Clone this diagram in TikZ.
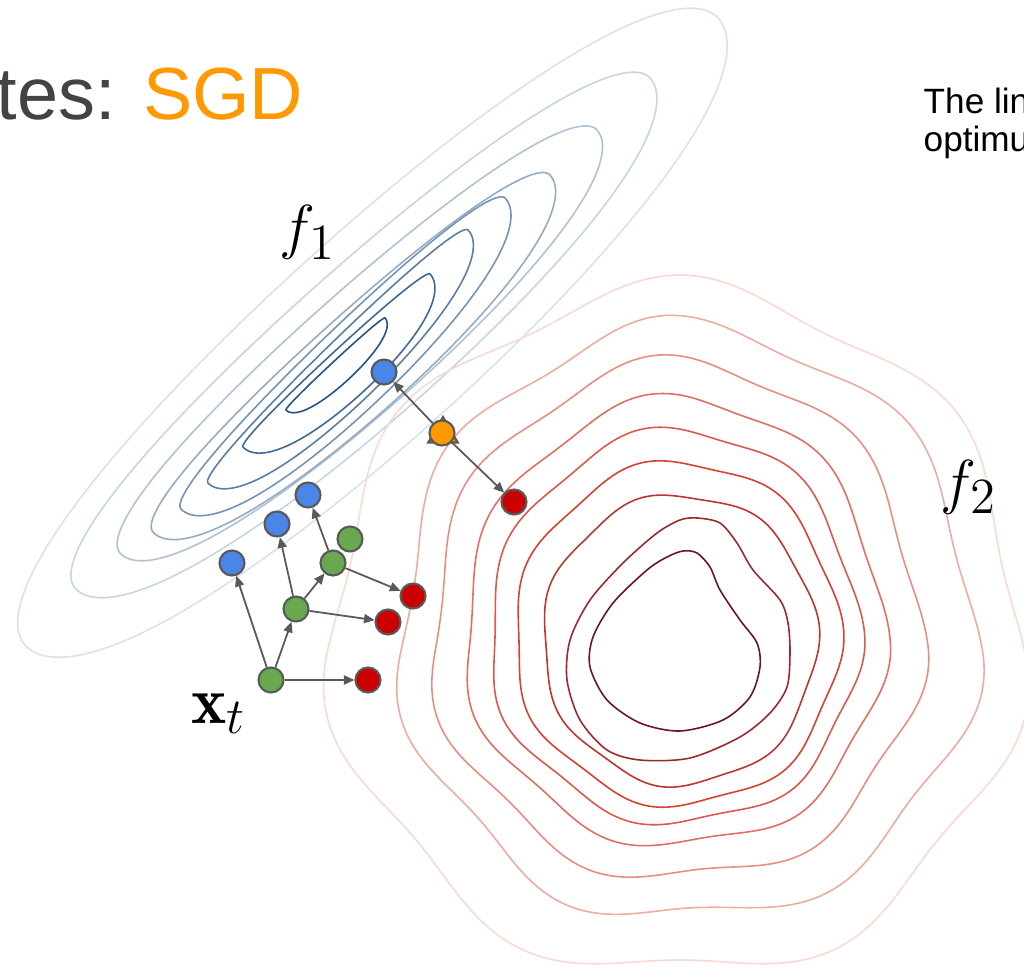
\documentclass[tikz,border=0pt]{standalone}
\usepackage{fontspec}
\usepackage{amsmath}
\usepackage{tikz}
\usetikzlibrary{arrows.meta, shapes.geometric}

\newfontfamily\slidefont{Liberation Sans}

\definecolor{nodeedge}{HTML}{595959}
\definecolor{ptblue}{HTML}{4A86E8}
\definecolor{ptgreen}{HTML}{6AA84F}
\definecolor{ptred}{HTML}{CC0000}
\definecolor{ptorange}{HTML}{FF9900}
\definecolor{titlegray}{HTML}{434343}
\definecolor{bluedeep}{RGB}{38,82,132}
\definecolor{bluepale}{RGB}{226,236,244}
\definecolor{reddeep}{RGB}{105,20,40}
\definecolor{redmid}{RGB}{215,65,50}
\definecolor{redpale}{RGB}{248,218,208}

% leaf shaped level line of f1: tips L=(#1,#2), R=(#3,#4), widths #5 (upper side) and #6 (lower side)
\newcommand\leafcurve[7]{%
  \pgfmathsetmacro\lcx{(#1+#3)/2}
  \pgfmathsetmacro\lcy{(#2+#4)/2}
  \pgfmathsetmacro\lha{veclen(#3-#1,#4-#2)/2}
  \pgfmathsetmacro\lux{(#3-#1)/(2*\lha)}
  \pgfmathsetmacro\luy{(#4-#2)/(2*\lha)}
  \draw[isoline,#7] plot[domain=0:360, samples=241, variable=\t]
    ({\lcx+\lha*cos(\t)*(1+0.1*sin(\t)^2)*\lux-((sin(\t)>0)?#6:#5)*sin(\t)*\luy},
     {\lcy+\lha*cos(\t)*(1+0.1*sin(\t)^2)*\luy+((sin(\t)>0)?#6:#5)*sin(\t)*\lux}) -- cycle;}

% wavy level line of f2: centre, radii left/right/top/bottom, wave, phase
\newcommand\blobcurve[9]{%
  \draw[isoline,#9] plot[domain=0:360, samples=241, variable=\t]
    ({#1+((cos(\t)>0)?#4:#3)*cos(\t)+#7*sin(7*\t+#8)*cos(\t)},
     {#2+((sin(\t)>0)?#6:#5)*sin(\t)+#7*sin(7*\t+#8)*sin(\t)}) -- cycle;}

\begin{document}
\begin{tikzpicture}[x=0.01cm, y=-0.01cm,
    isoline/.style={line width=0.45pt, line join=round},
    pt/.style={circle, draw=nodeedge, line width=0.6pt, minimum size=0.25cm, inner sep=0pt},
    bluept/.style={pt, fill=ptblue},
    greenpt/.style={pt, fill=ptgreen},
    redpt/.style={pt, fill=ptred},
    avgpt/.style={pt, fill=ptorange},
    descent/.style={draw=nodeedge, line width=0.5pt, -{Triangle[length=3pt, width=2.6pt]}},
    mathlabel/.style={anchor=base west, inner sep=0pt, font=\fontsize{19}{23}\selectfont}]
  \fill[white] (0,0) rectangle (1024,979);
  \clip (0,0) rectangle (1024,979);

  % level lines of f1
  \leafcurve{25}{645}{718}{18}{96}{108}{bluedeep!6!bluepale}
  \leafcurve{75}{588}{650}{78}{66}{86}{bluedeep!15!bluepale}
  \leafcurve{120}{553}{597}{130}{50}{70}{bluedeep!27!bluepale}
  \leafcurve{153}{532}{550}{175}{36}{64}{bluedeep!42!bluepale}
  \leafcurve{181}{509}{505}{198}{24}{58}{bluedeep!58!bluepale}
  \leafcurve{208}{483}{468}{230}{14}{49}{bluedeep!72!bluepale}
  \leafcurve{243}{447}{430}{274}{8}{41}{bluedeep!86!bluepale}
  \leafcurve{286}{410}{385}{318}{3}{20}{bluedeep}

  % level lines of f2
  \blobcurve{680}{640}{350}{342}{353}{332}{12}{0}{redpale}
  \blobcurve{680}{640}{280}{297}{315}{278}{10}{20}{redmid!30!redpale}
  \blobcurve{680}{640}{248}{242}{278}{238}{8}{40}{redmid!50!redpale}
  \blobcurve{680}{640}{215}{205}{242}{205}{6}{60}{redmid!70!redpale}
  \blobcurve{680}{640}{190}{180}{210}{183}{5}{80}{redmid!85!redpale}
  \blobcurve{680}{640}{165}{160}{178}{165}{4}{100}{redmid}
  \blobcurve{680}{640}{137}{137}{145}{145}{3}{120}{reddeep!25!redmid}
  \draw[isoline, reddeep!55!redmid] plot[smooth cycle] coordinates {(697,518) (720,523) (737,543)
    (753,570) (780,600) (788,623) (790,653) (787,687) (770,713) (740,737) (690,758) (640,760)
    (607,750) (580,720) (567,680) (570,640) (590,600) (623,563) (657,533) (680,520)};
  \draw[isoline, reddeep] plot[smooth cycle] coordinates {(683,551) (697,553) (710,567) (720,590)
    (740,620) (757,643) (760,667) (750,697) (723,720) (680,731) (640,723) (607,700) (590,667)
    (593,637) (613,603) (647,570) (667,557)};

  % texts
  \node[anchor=base west, inner sep=0pt, text=titlegray, font=\slidefont\fontsize{21}{25}\selectfont]
    (title) at (-4,120) {tes: \textcolor{ptorange}{SGD}};
  \node[anchor=base west, inner sep=0pt, align=left, font=\slidefont\fontsize{10}{10.9}\selectfont]
    (note) at (923,152) {The lin\\optimu};
  \node[mathlabel] (fone) at (279,248) {$f_1$};
  \node[mathlabel] (ftwo) at (940,502) {$f_2$};
  \node[mathlabel] (xlab) at (191,723) {$\mathbf{x}_t$};

  % averaged step
  \node[regular polygon, regular polygon sides=3, draw=nodeedge, fill=ptorange, line width=0.6pt,
    minimum size=0.34cm, inner sep=0pt] (tri) at (443,434) {};
  \node[avgpt] (avg) at (442,433) {};
  \node[bluept] (btop) at (384,372) {};
  \node[redpt] (rtop) at (514,502) {};

  % sgd steps
  \node[greenpt] (gxt) at (271,680) {};
  \node[greenpt] (glow) at (296,609) {};
  \node[greenpt] (gtop) at (350,539) {};
  \node[greenpt] (gmid) at (333,563) {};
  \node[bluept] (bone) at (232,563) {};
  \node[bluept] (btwo) at (277,524) {};
  \node[bluept] (bthree) at (308,495) {};
  \node[redpt] (rone) at (368,680) {};
  \node[redpt] (rtwo) at (388,622) {};
  \node[redpt] (rthree) at (413,596) {};

  \draw[descent] (avg) -- (btop);
  \draw[descent] (avg) -- (rtop);
  \draw[descent] (gxt) -- (bone);
  \draw[descent] (gxt) -- (glow);
  \draw[descent] (gxt) -- (rone);
  \draw[descent] (glow) -- (btwo);
  \draw[descent] (glow) -- (gmid);
  \draw[descent] (glow) -- (rtwo);
  \draw[descent] (gmid) -- (bthree);
  \draw[descent] (gmid) -- (rthree);
\end{tikzpicture}
\end{document}
